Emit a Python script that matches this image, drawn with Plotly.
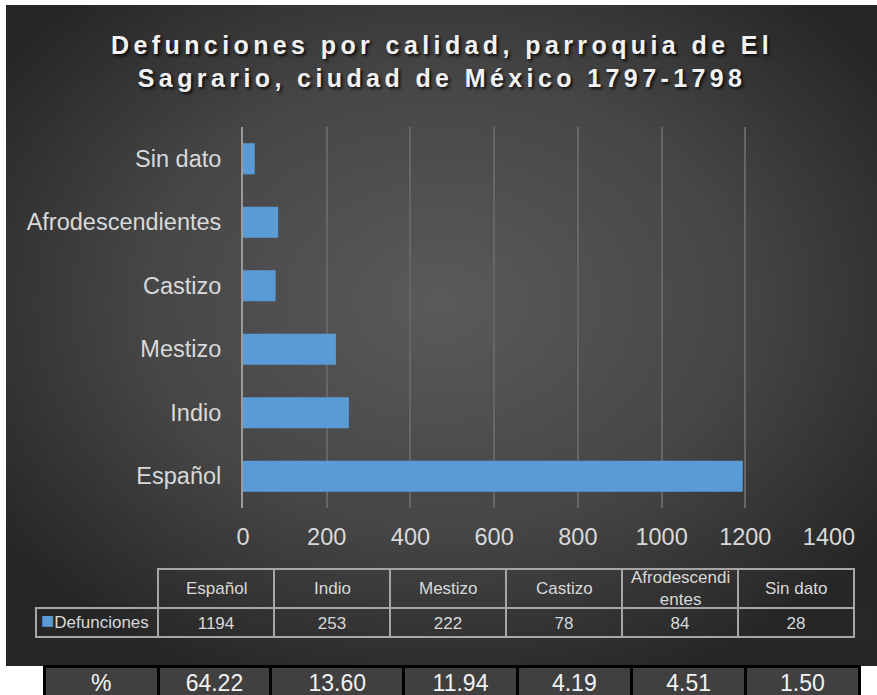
import base64
import plotly.graph_objects as go

# ---------------- data ----------------
categories = ["Español", "Indio", "Mestizo", "Castizo", "Afrodescendientes", "Sin dato"]
defunciones = [1194, 253, 222, 78, 84, 28]
table_headers = ["Español", "Indio", "Mestizo", "Castizo", "Afrodescendi<br>entes", "Sin dato"]
porcentajes = ["64.22", "13.60", "11.94", "4.19", "4.51", "1.50"]
pct_label = "%"
x_ticks = [0, 200, 400, 600, 800, 1000, 1200, 1400]
series_name = "Defunciones"
title_lines = ["Defunciones por calidad, parroquia de El", "Sagrario, ciudad de México 1797-1798"]

# ---------------- layout helpers ----------------
W, H = 877, 695


def px(x):
    return x / W


def py(y):
    return max(0.0, min(1.0, 1 - y / H))


BAR_COLOR = "#5b9bd5"
TEXT_COLOR = "#d9d9d9"
FONT = "Liberation Sans, Arial, sans-serif"

# dark radial-gradient background as an SVG image
bg_w, bg_h = 871, 661
svg = f'''<svg xmlns="http://www.w3.org/2000/svg" width="{bg_w}" height="{bg_h}" viewBox="0 0 {bg_w} {bg_h}">
<defs><radialGradient id="g" cx="0.5" cy="0.45" r="0.62" gradientUnits="objectBoundingBox">
<stop offset="0" stop-color="#5a5a5a"/><stop offset="0.55" stop-color="#464646"/><stop offset="1" stop-color="#262626"/>
</radialGradient></defs>
<rect x="0" y="0" width="{bg_w}" height="{bg_h}" fill="url(#g)"/></svg>'''
bg_src = "data:image/svg+xml;base64," + base64.b64encode(svg.encode()).decode()

fig = go.Figure()

fig.add_trace(go.Bar(
    y=categories, x=defunciones, orientation="h", name=series_name,
    marker=dict(color=BAR_COLOR, line=dict(width=0)),
    showlegend=False, hoverinfo="x+y",
))

# ---------------- data table ----------------
n = len(categories)
tbl_x0, tbl_top = 36, 569
col_w = [122] + [116] * n
head_h, cell_h = 39, 29
tbl_x1 = tbl_x0 + sum(col_w)
fig.add_trace(go.Table(
    domain=dict(x=[px(tbl_x0), px(tbl_x1)], y=[py(tbl_top + head_h + cell_h + 2), py(tbl_top)]),
    columnwidth=col_w,
    header=dict(
        values=[""] * (n + 1),
        height=head_h,
        fill=dict(color="rgba(0,0,0,0)"),
        line=dict(color=["rgba(0,0,0,0)"] + ["#a6a6a6"] * n, width=1.5),
        font=dict(family=FONT, size=17, color=TEXT_COLOR),
        align="center",
    ),
    cells=dict(
        values=[[""]] + [[v] for v in defunciones],
        height=cell_h,
        fill=dict(color="rgba(0,0,0,0)"),
        line=dict(color="#a6a6a6", width=1.5),
        font=dict(family=FONT, size=17, color=TEXT_COLOR),
        align="center",
    ),
))

annotations = []
# column header labels (vertically centred, as in the reference)
edges = [tbl_x0]
for w in col_w:
    edges.append(edges[-1] + w)
for i, lab in enumerate(table_headers):
    cx = (edges[i + 1] + edges[i + 2]) / 2
    annotations.append(dict(
        text=lab, x=px(cx), y=py(tbl_top + head_h / 2), xref="paper", yref="paper",
        xanchor="center", yanchor="middle", showarrow=False,
        font=dict(family=FONT, size=17, color=TEXT_COLOR),
    ))
# legend key in the first column
annotations.append(dict(
    text=f"<span style='color:{BAR_COLOR};font-size:22px'>■</span>{series_name}",
    x=px(tbl_x0 + 3), y=py(tbl_top + head_h + cell_h / 2 - 2), xref="paper", yref="paper",
    xanchor="left", yanchor="middle", showarrow=False,
    font=dict(family=FONT, size=17, color=TEXT_COLOR),
))
# title with letter spacing
annotations.append(dict(
    text="<br>".join(f"<span style='letter-spacing:4.4px'>{t}</span>" for t in title_lines),
    x=px(441.5), y=py(61), xref="paper", yref="paper",
    xanchor="center", yanchor="middle", showarrow=False,
    font=dict(family=FONT, size=25, color="#f2f2f2", weight="bold",
              shadow="2px 2px 3px rgba(0,0,0,0.8)"),
))

# ---------------- percentage table ----------------
fig.add_trace(go.Table(
    domain=dict(x=[px(44), px(859)], y=[py(700), py(666)]),
    columnwidth=[114, 112, 133, 113, 114, 114, 113],
    header=dict(
        values=[pct_label] + porcentajes,
        height=32,
        fill=dict(color="#404040"),
        line=dict(color="#000000", width=3),
        font=dict(family=FONT, size=23, color="#f2f2f2"),
        align="center",
    ),
    cells=dict(values=[[""]] * 7, height=1, fill=dict(color="#ffffff"),
               line=dict(color="rgba(0,0,0,0)", width=0)),
))

fig.update_layout(
    width=W, height=H,
    margin=dict(l=0, r=0, t=0, b=0),
    paper_bgcolor="#ffffff",
    plot_bgcolor="rgba(0,0,0,0)",
    bargap=0.51,
    annotations=annotations,
    images=[dict(
        source=bg_src, xref="paper", yref="paper",
        x=px(6), y=py(5), sizex=bg_w / W, sizey=bg_h / H,
        xanchor="left", yanchor="top", sizing="stretch", layer="below",
    )],
    xaxis=dict(
        domain=[px(243), px(829)], range=[0, 1400],
        tickvals=x_ticks, ticktext=[str(t) for t in x_ticks],
        showgrid=True, gridcolor="#666666", gridwidth=1.5,
        zeroline=False, showline=False,
        ticks="outside", ticklen=8, tickcolor="rgba(0,0,0,0)",
        tickfont=dict(family=FONT, size=23.5, color=TEXT_COLOR),
        automargin=False, fixedrange=True,
    ),
    yaxis=dict(
        domain=[py(508), py(127)],
        type="category", categoryorder="array", categoryarray=categories,
        showgrid=False, zeroline=False,
        showline=True, linecolor="#9a9a9a", linewidth=2,
        ticks="outside", ticklen=15, tickcolor="rgba(0,0,0,0)",
        tickfont=dict(family=FONT, size=23.5, color=TEXT_COLOR),
        automargin=False, fixedrange=True,
    ),
)

fig.write_html("out.html")
